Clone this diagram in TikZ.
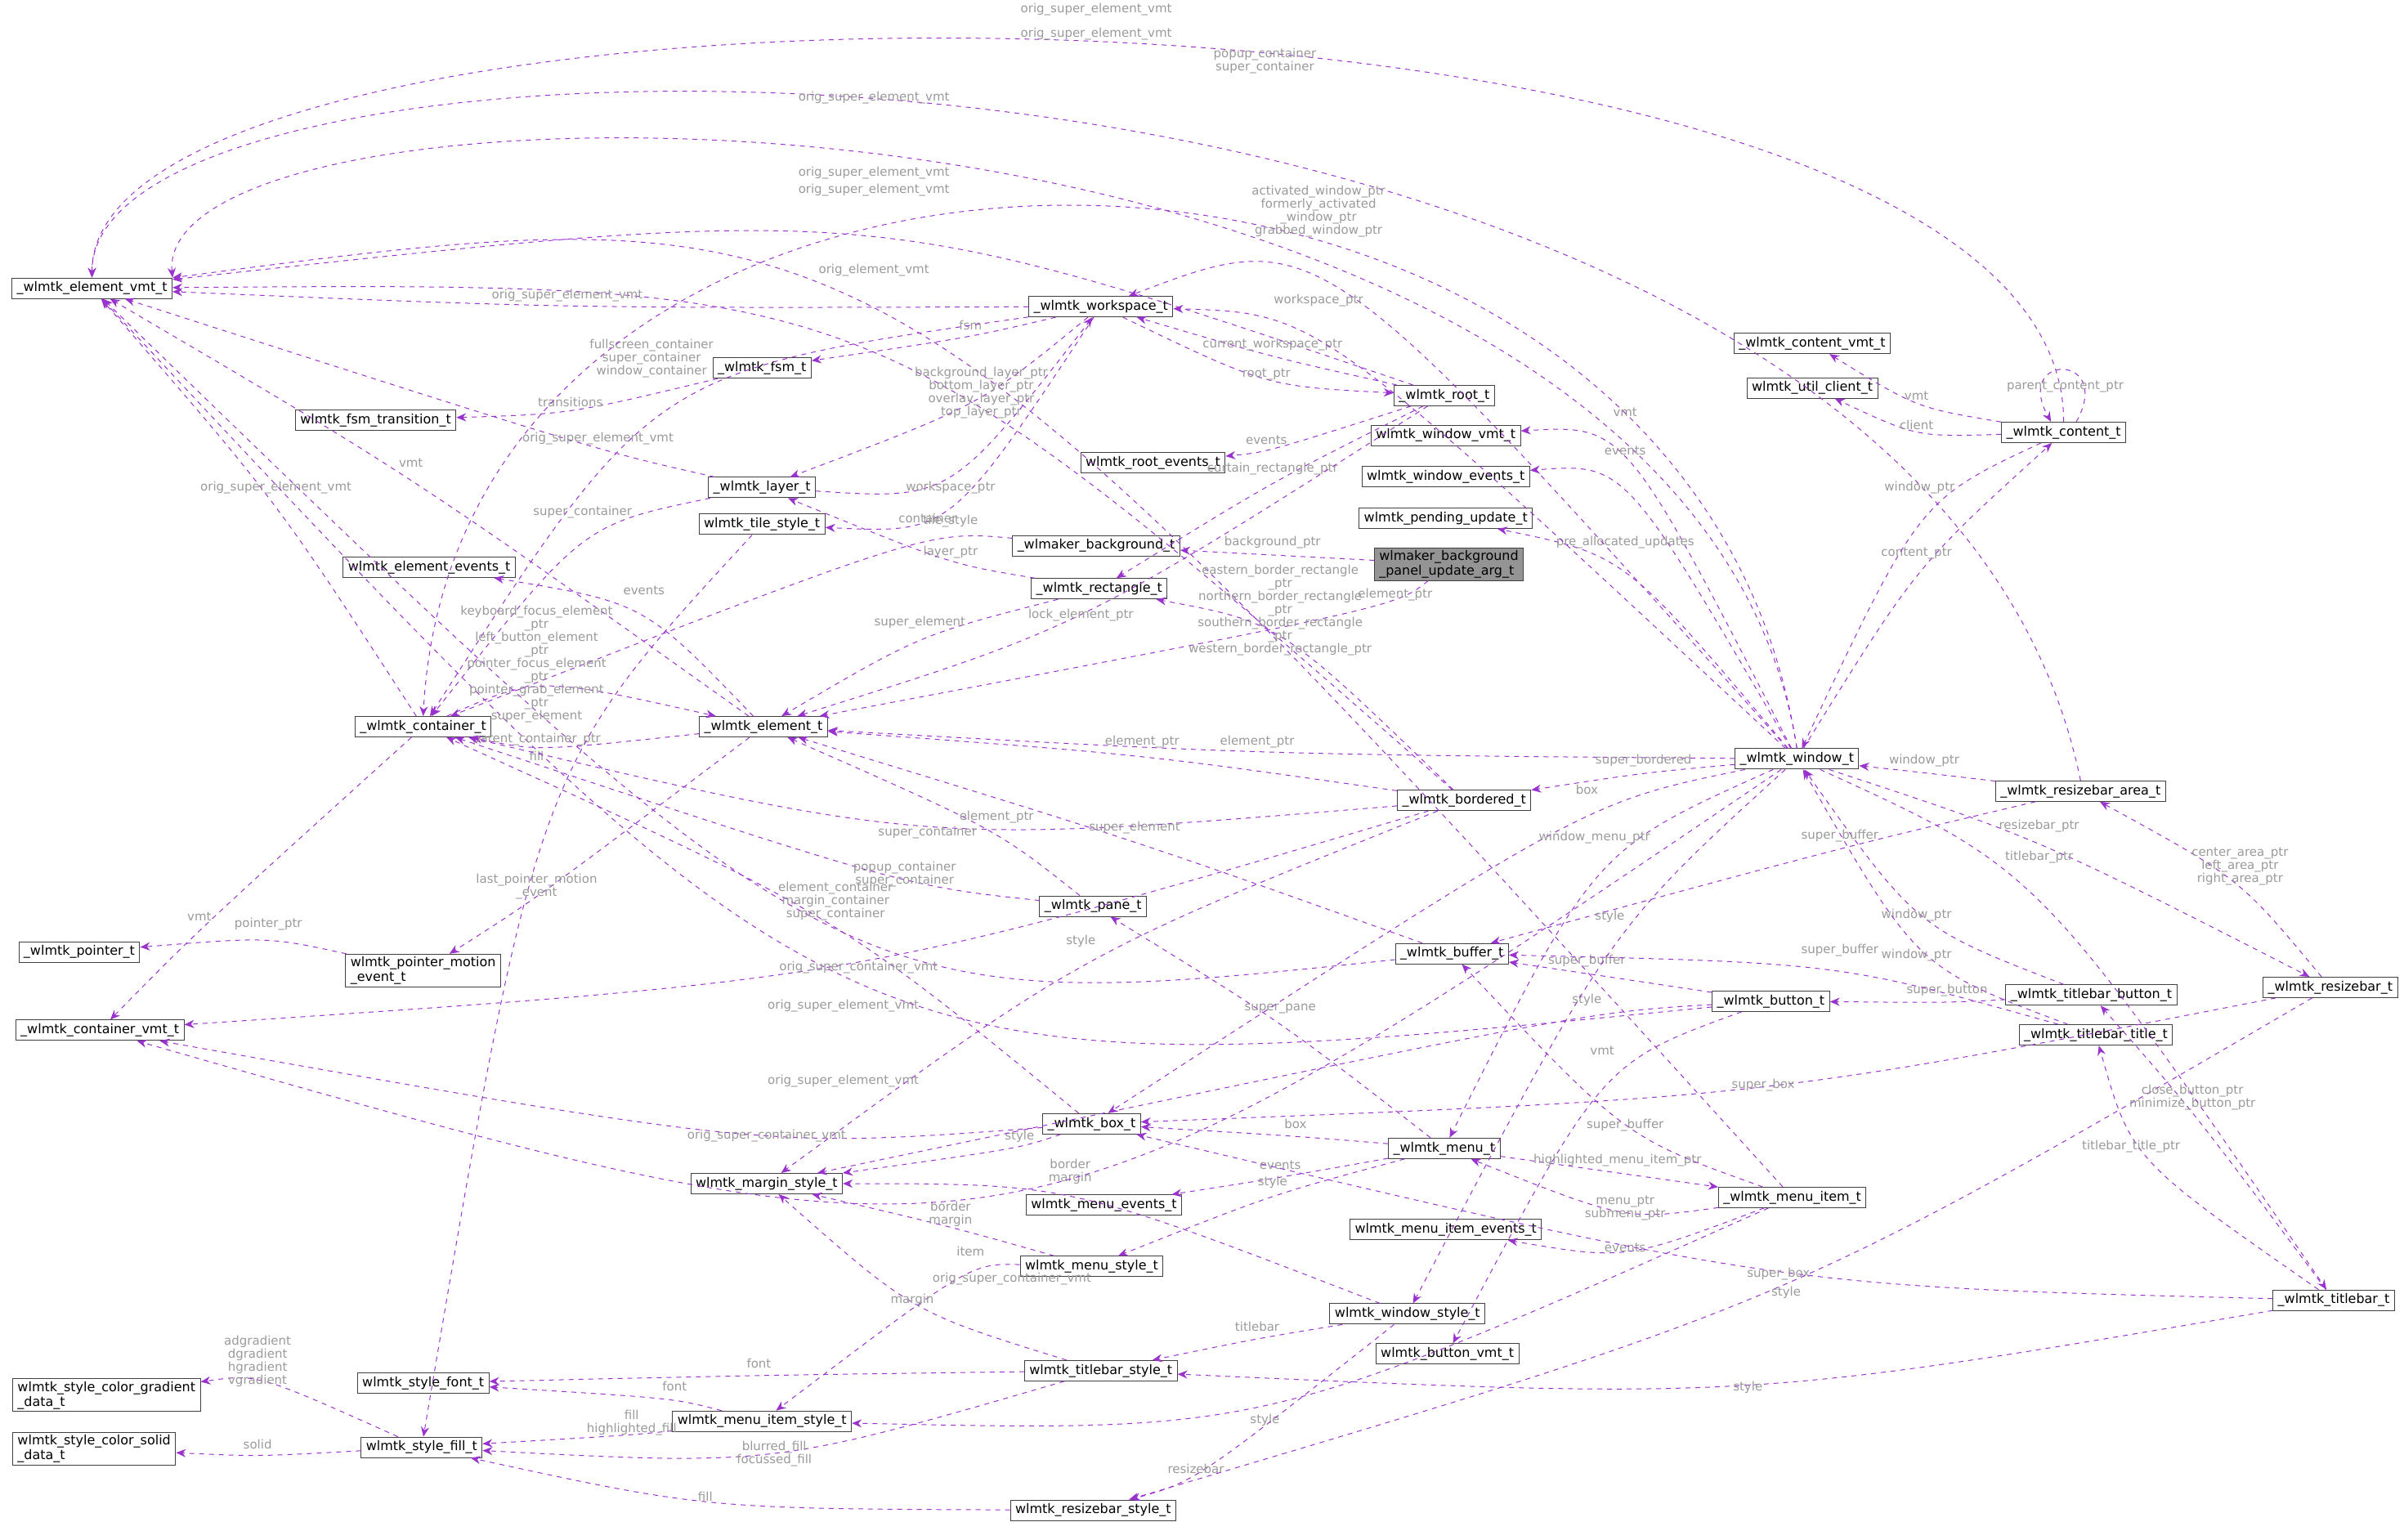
\documentclass[tikz,border=0pt]{standalone}
\usepackage{fontspec}
\setmainfont{DejaVu Sans}
\usetikzlibrary{arrows.meta,calc}
\definecolor{depcol}{HTML}{9A32CD}
\definecolor{labcol}{HTML}{9A9A9A}
\tikzstyle{structbox} = [rectangle, draw=black!75, fill=white, line width=0.5pt,
    font=\fontsize{8}{9}\selectfont, inner xsep=3pt, inner ysep=1.5pt, minimum height=4.4mm, align=left]
\tikzstyle{dep} = [draw=depcol, dashed, line width=0.5pt, -{Stealth[length=6pt,width=5pt]}]
\tikzstyle{lab} = [font=\fontsize{7.5}{8}\selectfont, text=labcol, align=center, inner sep=0pt]
\newcommand{\dep}[4]{\draw[dep] (#1) .. controls ($(#3)+(0,8)$) and ($(#3)+(0,8)$) .. (#2) node[lab, at={(#3)}] {#4};}

\begin{document}
\begin{tikzpicture}[x=0.033cm, y=-0.033cm]
    \useasboundingbox (0,0) rectangle (1568,1004);
    % Place nodes
    \node [structbox] (elemvmt) at (60,188) {\_wlmtk\_element\_vmt\_t};
    \node [structbox] (fsmtrans) at (245,274) {wlmtk\_fsm\_transition\_t};
    \node [structbox] (fsm) at (497,240) {\_wlmtk\_fsm\_t};
    \node [structbox] (workspace) at (718,200) {\_wlmtk\_workspace\_t};
    \node [structbox] (root) at (942,258) {\_wlmtk\_root\_t};
    \node [structbox] (rootevents) at (752,302) {wlmtk\_root\_events\_t};
    \node [structbox] (layer) at (497,318) {\_wlmtk\_layer\_t};
    \node [structbox] (tilestyle) at (497,342) {wlmtk\_tile\_style\_t};
    \node [structbox] (elemevents) at (280,370) {wlmtk\_element\_events\_t};
    \node [structbox] (bg) at (715,356) {\_wlmaker\_background\_t};
    \node [structbox] (rect) at (717,384) {\_wlmtk\_rectangle\_t};
    \node [structbox] (pending) at (943,338) {wlmtk\_pending\_update\_t};
    \node [structbox, fill=black!42] (panelarg) at (945,368) {wlmaker\_background\\\_panel\_update\_arg\_t};
    \node [structbox] (container) at (276,474) {\_wlmtk\_container\_t};
    \node [structbox] (element) at (498,474) {\_wlmtk\_element\_t};
    \node [structbox] (window) at (1172,495) {\_wlmtk\_window\_t};
    \node [structbox] (bordered) at (955,522) {\_wlmtk\_bordered\_t};
    \node [structbox] (rbarea) at (1357,516) {\_wlmtk\_resizebar\_area\_t};
    \node [structbox] (contentvmt) at (1182,224) {\_wlmtk\_content\_vmt\_t};
    \node [structbox] (utilclient) at (1182,253) {wlmtk\_util\_client\_t};
    \node [structbox] (content) at (1346,282) {\_wlmtk\_content\_t};
    \node [structbox] (windowvmt) at (943,284) {wlmtk\_window\_vmt\_t};
    \node [structbox] (windowevents) at (943,311) {wlmtk\_window\_events\_t};
    \node [structbox] (pane) at (713,591) {\_wlmtk\_pane\_t};
    \node [structbox, anchor=west] (pointer) at (12,621) {\_wlmtk\_pointer\_t};
    \node [structbox] (ptrmotion) at (276,633) {wlmtk\_pointer\_motion\\\_event\_t};
    \node [structbox] (buffer) at (947,622) {\_wlmtk\_buffer\_t};
    \node [structbox, anchor=west] (containervmt) at (10,672) {\_wlmtk\_container\_vmt\_t};
    \node [structbox] (button) at (1155,653) {\_wlmtk\_button\_t};
    \node [structbox] (tbbutton) at (1364,649) {\_wlmtk\_titlebar\_button\_t};
    \node [structbox] (tbtitle) at (1367,675) {\_wlmtk\_titlebar\_title\_t};
    \node [structbox, anchor=east] (resizebar) at (1564,644) {\_wlmtk\_resizebar\_t};
    \node [structbox] (box) at (712,733) {\_wlmtk\_box\_t};
    \node [structbox] (marginstyle) at (500,772) {wlmtk\_margin\_style\_t};
    \node [structbox] (menuevents) at (720,786) {wlmtk\_menu\_events\_t};
    \node [structbox] (menu) at (942,749) {\_wlmtk\_menu\_t};
    \node [structbox] (menuitem) at (1169,781) {\_wlmtk\_menu\_item\_t};
    \node [structbox] (menuitemevents) at (943,802) {wlmtk\_menu\_item\_events\_t};
    \node [structbox] (menustyle) at (712,826) {wlmtk\_menu\_style\_t};
    \node [structbox, anchor=east] (titlebar) at (1562,848) {\_wlmtk\_titlebar\_t};
    \node [structbox] (windowstyle) at (918,857) {wlmtk\_window\_style\_t};
    \node [structbox] (buttonvmt) at (944,883) {wlmtk\_button\_vmt\_t};
    \node [structbox, anchor=west] (gradient) at (8,910) {wlmtk\_style\_color\_gradient\\\_data\_t};
    \node [structbox] (stylefont) at (276,902) {wlmtk\_style\_font\_t};
    \node [structbox] (tbstyle) at (718,894) {wlmtk\_titlebar\_style\_t};
    \node [structbox] (mistyle) at (497,927) {wlmtk\_menu\_item\_style\_t};
    \node [structbox, anchor=west] (solid) at (8,945) {wlmtk\_style\_color\_solid\\\_data\_t};
    \node [structbox] (fill) at (275,944) {wlmtk\_style\_fill\_t};
    \node [structbox] (rbstyle) at (713,985) {wlmtk\_resizebar\_style\_t};
    % Draw edges
    \draw[dep] (content.north) .. controls (1346,-40) and (60,-40) .. (elemvmt.north)
        node[lab, at={(715,6)}] {orig\_super\_element\_vmt};
    \draw[dep] (rbarea.north) .. controls (1250,-15) and (60,-15) .. (elemvmt.north)
        node[lab, at={(715,22)}] {orig\_super\_element\_vmt};
    \draw[dep] (window.north) .. controls (1100,30) and (100,30) .. (elemvmt.north east)
        node[lab, at={(570,64)}] {orig\_super\_element\_vmt};
    \dep{menuitem}{elemvmt}{570,113}{orig\_super\_element\_vmt}
    \dep{root}{elemvmt}{570,124}{orig\_super\_element\_vmt}
    \dep{bordered}{elemvmt}{570,176}{orig\_element\_vmt}
    \dep{workspace}{elemvmt}{370,193}{orig\_super\_element\_vmt}
    \dep{layer}{elemvmt}{390,286}{orig\_super\_element\_vmt}
    \dep{element}{elemvmt}{268,302}{vmt}
    \dep{container}{elemvmt}{180,318}{orig\_super\_element\_vmt}
    \dep{buffer}{elemvmt}{550,656}{orig\_super\_element\_vmt}
    \dep{button}{elemvmt}{550,705}{orig\_super\_element\_vmt}
    \dep{fsm}{fsmtrans}{372,262}{transitions}
    \dep{workspace}{fsm}{633,212}{fsm}
    \dep{workspace}{layer}{640,256}{background\_layer\_ptr\\bottom\_layer\_ptr\\overlay\_layer\_ptr\\top\_layer\_ptr}
    \dep{layer}{workspace}{620,318}{workspace\_ptr}
    \dep{workspace}{tilestyle}{620,340}{tile\_style}
    \dep{root}{workspace}{830,225}{current\_workspace\_ptr}
    \dep{workspace}{root}{826,244}{root\_ptr}
    \dep{root}{rootevents}{826,287}{events}
    \dep{root}{rect}{830,306}{curtain\_rectangle\_ptr}
    \dep{workspace}{container}{425,234}{fullscreen\_container\\super\_container\\window\_container}
    \dep{layer}{container}{380,334}{super\_container}
    \dep{rect}{layer}{620,360}{layer\_ptr}
    \dep{bg}{container}{605,338}{container}
    \dep{panelarg}{bg}{830,354}{background\_ptr}
    \dep{element}{elemevents}{420,385}{events}
    \dep{rect}{element}{600,406}{super\_element}
    \dep{root}{element}{705,401}{lock\_element\_ptr}
    \dep{panelarg}{element}{910,388}{element\_ptr}
    \dep{bordered}{rect}{835,398}{eastern\_border\_rectangle\\\_ptr\\northern\_border\_rectangle\\\_ptr\\southern\_border\_rectangle\\\_ptr\\western\_border\_rectangle\_ptr}
    \dep{container}{element}{350,433}{keyboard\_focus\_element\\\_ptr\\left\_button\_element\\\_ptr\\pointer\_focus\_element\\\_ptr\\pointer\_grab\_element\\\_ptr\\super\_element}
    \dep{element}{container}{350,482}{parent\_container\_ptr}
    \dep{tilestyle}{fill}{350,493}{fill}
    \dep{container}{containervmt}{130,598}{vmt}
    \dep{element}{ptrmotion}{350,578}{last\_pointer\_motion\\\_event}
    \dep{ptrmotion}{pointer}{175,603}{pointer\_ptr}
    \dep{window}{element}{820,484}{element\_ptr}
    \dep{bordered}{element}{745,484}{element\_ptr}
    \dep{bordered}{container}{605,543}{super\_container}
    \dep{pane}{element}{650,533}{element\_ptr}
    \dep{pane}{container}{590,570}{popup\_container\\super\_container}
    \dep{buffer}{element}{740,540}{super\_element}
    \dep{box}{container}{545,588}{element\_container\\margin\_container\\super\_container}
    \dep{bordered}{containervmt}{560,631}{orig\_super\_container\_vmt}
    \dep{bordered}{marginstyle}{705,614}{style}
    \dep{box}{containervmt}{500,741}{orig\_super\_container\_vmt}
    \dep{box}{marginstyle}{665,741}{style}
    \dep{button}{buffer}{1035,627}{super\_buffer}
    \dep{button}{marginstyle}{1035,652}{style}
    \dep{button}{buttonvmt}{1045,685}{vmt}
    \dep{menu}{pane}{835,658}{super\_pane}
    \dep{menu}{box}{845,733}{box}
    \dep{menu}{menuevents}{835,760}{events}
    \dep{menu}{menustyle}{830,771}{style}
    \dep{menu}{menuitem}{1055,757}{highlighted\_menu\_item\_ptr}
    \dep{menuitem}{menu}{1060,788}{menu\_ptr\\submenu\_ptr}
    \dep{menuitem}{menuitemevents}{1060,814}{events}
    \dep{menuitem}{buffer}{1060,734}{super\_buffer}
    \dep{menuitem}{mistyle}{825,926}{style}
    \dep{menustyle}{marginstyle}{620,792}{border\\margin}
    \dep{menustyle}{mistyle}{633,816}{item}
    \dep{windowstyle}{marginstyle}{698,764}{border\\margin}
    \dep{mistyle}{stylefont}{440,904}{font}
    \dep{mistyle}{fill}{412,928}{fill\\highlighted\_fill}
    \dep{tbstyle}{stylefont}{495,889}{font}
    \dep{tbstyle}{fill}{505,948}{blurred\_fill\\focussed\_fill}
    \dep{tbstyle}{marginstyle}{595,848}{margin}
    \dep{windowstyle}{tbstyle}{820,865}{titlebar}
    \dep{windowstyle}{rbstyle}{780,958}{resizebar}
    \dep{rbstyle}{fill}{460,976}{fill}
    \dep{fill}{gradient}{168,888}{adgradient\\dgradient\\hgradient\\vgradient}
    \dep{fill}{solid}{168,942}{solid}
    \dep{window}{containervmt}{660,834}{orig\_super\_container\_vmt}
    \dep{titlebar}{tbstyle}{1140,905}{style}
    \dep{titlebar}{box}{1160,831}{super\_box}
    \dep{resizebar}{rbstyle}{1165,843}{style}
    \dep{resizebar}{box}{1150,708}{super\_box}
    \dep{titlebar}{tbtitle}{1390,748}{titlebar\_title\_ptr}
    \dep{titlebar}{tbbutton}{1430,716}{close\_button\_ptr\\minimize\_button\_ptr}
    \dep{resizebar}{rbarea}{1461,565}{center\_area\_ptr\\left\_area\_ptr\\right\_area\_ptr}
    \dep{tbbutton}{button}{1270,646}{super\_button}
    \dep{tbtitle}{buffer}{1200,620}{super\_buffer}
    \dep{tbbutton}{window}{1250,597}{window\_ptr}
    \dep{tbtitle}{window}{1250,623}{window\_ptr}
    \dep{rbarea}{window}{1255,496}{window\_ptr}
    \dep{rbarea}{buffer}{1200,545}{super\_buffer}
    \dep{window}{resizebar}{1330,539}{resizebar\_ptr}
    \dep{window}{titlebar}{1330,559}{titlebar\_ptr}
    \dep{window}{bordered}{1072,496}{super\_bordered}
    \dep{window}{box}{1035,515}{box}
    \dep{window}{menu}{1040,546}{window\_menu\_ptr}
    \dep{window}{windowstyle}{1050,598}{style}
    \dep{window}{windowvmt}{1060,269}{vmt}
    \dep{window}{windowevents}{1060,294}{events}
    \dep{window}{pending}{1060,354}{pre\_allocated\_updates}
    \dep{window}{content}{1250,361}{content\_ptr}
    \dep{content}{window}{1252,318}{window\_ptr}
    \dep{content}{contentvmt}{1250,258}{vmt}
    \dep{content}{utilclient}{1250,277}{client}
    \draw[dep] (content.40) .. controls +(25,-45) and +(-25,-45) .. (content.140)
        node[lab, at={(1347,252)}] {parent\_content\_ptr};
    \draw[dep] (window.north) .. controls (1100,20) and (300,20) .. (container.north)
        node[lab, at={(825,40)}] {popup\_container\\super\_container};
    \dep{window}{workspace}{860,138}{activated\_window\_ptr\\formerly\_activated\\\_window\_ptr\\grabbed\_window\_ptr}
    \dep{window}{workspace}{860,196}{workspace\_ptr}
\end{tikzpicture}
\end{document}
